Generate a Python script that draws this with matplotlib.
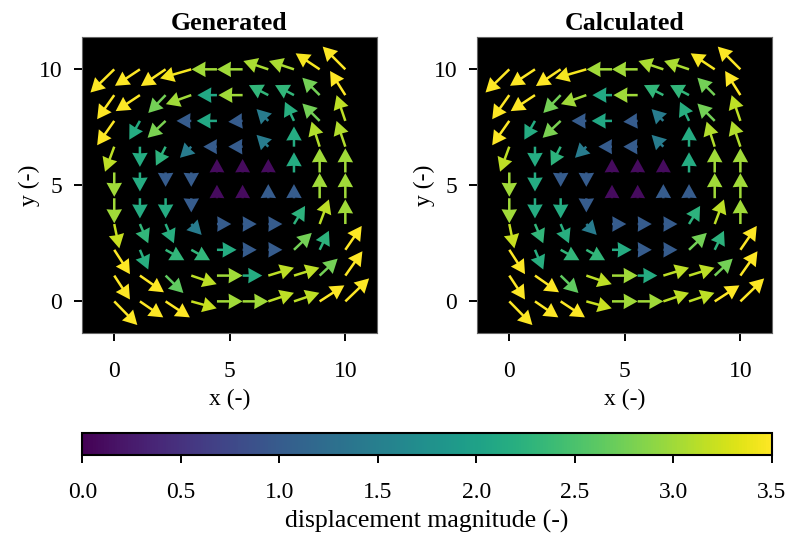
import numpy as np
import matplotlib.pyplot as plt
import matplotlib as mpl

plt.rcParams['font.family'] = ['Liberation Serif', 'DejaVu Serif']
plt.rcParams['font.size'] = 17

# grid of measurement points (rows listed from top y=10 to bottom y=0)
x = np.linspace(0, 10, 10)
y = np.linspace(10, 0, 10)

# displacement arrows as drawn (data units)
U = np.array([
    [-1.03, -1.08, -1.07, -1.35, -1.10, -1.11, -1.08, -1.08, -1.04, -0.98],
    [-0.74, -1.05, -0.75, -1.10, -0.85, -1.05, -0.84, -0.82, -0.75, -0.66],
    [-0.74, -0.46, -0.78, -0.64, -0.88, -0.62, -0.51, -0.39, -0.75, -0.38],
    [-0.40, 0.00, -0.42, -0.49, -0.59, -0.62, -0.51, 0.00, -0.35, -0.38],
    [0.00, 0.00, 0.00, 0.00, 0.00, 0.00, 0.00, 0.00, 0.00, 0.00],
    [0.00, 0.00, 0.00, 0.00, 0.00, 0.00, 0.00, 0.00, 0.00, 0.00],
    [0.22, 0.36, 0.36, 0.45, 0.62, 0.61, 0.61, 0.48, 0.40, 0.00],
    [0.68, 0.36, 0.81, 0.81, 0.85, 0.61, 0.61, 0.77, 0.40, 0.71],
    [0.68, 1.04, 0.77, 1.10, 1.11, 0.85, 1.11, 1.10, 0.78, 0.74],
    [1.00, 1.01, 1.05, 1.10, 1.11, 1.11, 1.11, 1.10, 1.07, 1.03],
])
V = np.array([
    [-1.00, -0.71, -0.72, -0.39, 0.00, 0.00, 0.36, 0.36, 0.69, 0.98],
    [-1.04, -0.69, -0.77, -0.39, 0.00, 0.00, 0.43, 0.43, 0.75, 1.04],
    [-1.05, -0.81, -0.73, 0.00, 0.00, -0.04, 0.51, 0.82, 0.75, 1.11],
    [-1.08, -0.87, -0.82, -0.48, 0.00, 0.00, 0.51, 0.87, 1.08, 1.11],
    [-1.05, -0.82, -0.62, -0.62, 0.58, 0.58, 0.58, 0.87, 1.04, 1.04],
    [-1.08, -0.87, -0.87, -0.61, 0.58, 0.58, 0.61, 0.61, 1.08, 1.08],
    [-1.05, -0.83, -0.83, -0.47, 0.00, 0.00, 0.00, 0.78, 1.06, 1.06],
    [-1.05, -0.85, -0.45, -0.45, 0.00, 0.00, 0.00, 0.73, 0.82, 1.03],
    [-1.03, -0.72, -0.75, -0.37, 0.00, 0.00, 0.34, 0.34, 0.73, 1.05],
    [-1.02, -0.69, -0.69, -0.30, 0.00, 0.00, 0.37, 0.37, 0.69, 0.99],
])
# displacement magnitude (colour)
C = np.array([
    [3.5, 3.5, 3.5, 3.45, 3.0, 3.0, 3.05, 3.05, 3.45, 3.5],
    [3.5, 3.5, 2.75, 3.0, 2.1, 3.0, 2.3, 2.3, 2.75, 3.5],
    [3.5, 2.15, 2.8, 1.0, 2.1, 1.0, 1.45, 2.2, 2.75, 3.15],
    [3.15, 2.15, 2.25, 1.45, 1.0, 1.0, 1.45, 2.15, 3.1, 3.1],
    [3.0, 2.15, 1.0, 1.0, 0.1, 0.1, 0.1, 2.15, 3.0, 3.0],
    [3.0, 2.15, 2.15, 1.0, 0.1, 0.1, 1.0, 1.0, 3.0, 3.0],
    [3.2, 2.3, 2.2, 1.45, 1.0, 1.0, 1.0, 2.25, 3.15, 3.0],
    [3.5, 2.2, 2.3, 2.3, 2.15, 1.0, 1.0, 2.75, 2.25, 3.5],
    [3.5, 3.5, 2.65, 3.15, 3.0, 2.15, 3.15, 3.15, 2.75, 3.5],
    [3.5, 3.5, 3.5, 3.2, 3.0, 3.0, 3.15, 3.15, 3.5, 3.5],
])

titles = ["Generated", "Calculated"]
X, Y = np.meshgrid(x, y)
norm = mpl.colors.Normalize(vmin=0, vmax=3.5)

fig = plt.figure(figsize=(7.89, 5.33), dpi=100)
ax1 = fig.add_axes([0.1035, 0.3758, 0.3743, 0.5542])
ax2 = fig.add_axes([0.6042, 0.3758, 0.3743, 0.5542])

for ax, title in zip([ax1, ax2], titles):
    ax.set_facecolor('black')
    ax.quiver(X, Y, U, V, C, cmap='viridis', norm=norm,
              angles='xy', scale_units='xy', scale=1, pivot='tail',
              width=0.0085, headwidth=6.2, headlength=5.6,
              headaxislength=5.4)
    ax.set_xlim(-1.41, 11.37)
    ax.set_ylim(-1.35, 11.38)
    ax.set_xticks([0, 5, 10])
    ax.set_yticks([0, 5, 10])
    ax.tick_params(length=5.5, width=1.4)
    ax.tick_params(axis='x', pad=15)
    ax.tick_params(axis='y', pad=8.5)
    for s in ax.spines.values():
        s.set_color('#666666')
        s.set_linewidth(0.8)
    ax.set_title(title, fontweight='bold', fontsize=18.6, pad=5)
    ax.set_xlabel("x (-)", labelpad=5)
    ax.set_ylabel("y (-)", labelpad=-1)

cax = fig.add_axes([0.1043, 0.1463, 0.8738, 0.0407])
sm = mpl.cm.ScalarMappable(norm=norm, cmap='viridis')
cb = fig.colorbar(sm, cax=cax, orientation='horizontal',
                  ticks=np.arange(0, 3.51, 0.5))
cb.outline.set_linewidth(1.5)
cb.outline.set_edgecolor('black')
cax.tick_params(length=5.5, width=1.4, pad=14)
cb.set_label("displacement magnitude (-)", fontsize=18.5, labelpad=5)

fig.savefig("out.png", dpi=100)
